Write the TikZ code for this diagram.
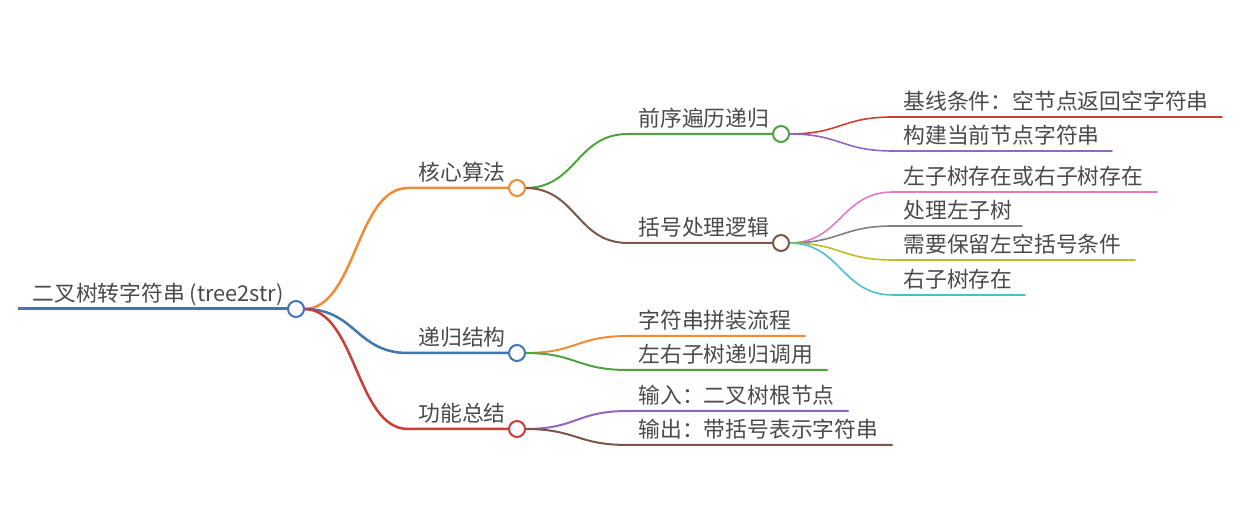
\documentclass[tikz,border=0pt]{standalone}
\usepackage{fontspec}
\newfontfamily\cjk{Noto Sans CJK SC}
\definecolor{txt}{HTML}{4A4A4A}
\definecolor{cblue}{HTML}{3F76B3}
\definecolor{corange}{HTML}{F08C35}
\definecolor{cred}{HTML}{CC3D36}
\definecolor{cgreen}{HTML}{4DA43D}
\definecolor{cbrown}{HTML}{7D5648}
\definecolor{cpurple}{HTML}{9366BF}
\definecolor{cpink}{HTML}{E07BC4}
\definecolor{cgray}{HTML}{808080}
\definecolor{colive}{HTML}{BDBD2A}
\definecolor{ccyan}{HTML}{4FBDD0}
\begin{document}
\begin{tikzpicture}[x=0.5pt,y=-0.5pt,
  lbl/.style={anchor=base west, inner sep=0pt, font=\cjk\fontsize{10.9}{12}\selectfont, text=txt},
  dot/.style={circle, draw=#1, fill=white, minimum size=8pt, inner sep=0pt, line width=1pt},
  lv0/.style={draw=#1, line width=1.5pt},
  lv1/.style={draw=#1, line width=1.25pt},
  lv2/.style={draw=#1, line width=1pt},
  lv3/.style={draw=#1, line width=0.8pt},
  link/.style={line cap=round}]
\useasboundingbox (0,0) rectangle (1248,506);

% root
\coordinate (R-s) at (18,309);
\coordinate (R-e) at (288,309);
\node[lbl] (R) at (32,302) {二叉树转字符串 (tree2str)};
\draw[lv0=cblue] (R-s) -- (R-e);

% level 1
\coordinate (A-s) at (408,188); \coordinate (A-e) at (509,188);
\node[lbl] (A) at (418,181) {核心算法};
\coordinate (B-s) at (408,353); \coordinate (B-e) at (509,353);
\node[lbl] (B) at (418,346) {递归结构};
\coordinate (C-s) at (408,429); \coordinate (C-e) at (509,429);
\node[lbl] (C) at (418,422) {功能总结};

\draw[lv1=corange, link] (R-e) ++(16,0) coordinate (R-ce) .. controls +(52,0) and +(-52,0) .. (A-s) -- (A-e);
\draw[lv1=cblue, link] (R-ce) .. controls +(52,0) and +(-52,0) .. (B-s) -- (B-e);
\draw[lv1=cred, link] (R-ce) .. controls +(52,0) and +(-52,0) .. (C-s) -- (C-e);

% level 2
\coordinate (A1-s) at (628,134); \coordinate (A1-e) at (773,134);
\node[lbl] (A1) at (638,127) {前序遍历递归};
\coordinate (A2-s) at (628,243); \coordinate (A2-e) at (773,243);
\node[lbl] (A2) at (638,236) {括号处理逻辑};
\coordinate (B1-s) at (628,336); \coordinate (B1-e) at (805,336);
\node[lbl] (B1) at (638,329) {字符串拼装流程};
\coordinate (B2-s) at (628,370); \coordinate (B2-e) at (827,370);
\node[lbl] (B2) at (638,363) {左右子树递归调用};
\coordinate (C1-s) at (628,411); \coordinate (C1-e) at (848,411);
\node[lbl] (C1) at (638,404) {输入：二叉树根节点};
\coordinate (C2-s) at (628,445); \coordinate (C2-e) at (892,445);
\node[lbl] (C2) at (638,438) {输出：带括号表示字符串};

\coordinate (A-ce) at (525,188);
\coordinate (B-ce) at (525,353);
\coordinate (C-ce) at (525,429);
\draw[lv2=cgreen, link] (A-ce) .. controls +(52,0) and +(-52,0) .. (A1-s) -- (A1-e);
\draw[lv2=cbrown, link] (A-ce) .. controls +(52,0) and +(-52,0) .. (A2-s) -- (A2-e);
\draw[lv2=corange, link] (B-ce) .. controls +(52,0) and +(-52,0) .. (B1-s) -- (B1-e);
\draw[lv2=cgreen, link] (B-ce) .. controls +(52,0) and +(-52,0) .. (B2-s) -- (B2-e);
\draw[lv2=cpurple, link] (C-ce) .. controls +(52,0) and +(-52,0) .. (C1-s) -- (C1-e);
\draw[lv2=cbrown, link] (C-ce) .. controls +(52,0) and +(-52,0) .. (C2-s) -- (C2-e);

% level 3
\coordinate (A11-s) at (893,117); \coordinate (A11-e) at (1222,117);
\node[lbl] (A11) at (903,110) {基线条件：空节点返回空字符串};
\coordinate (A12-s) at (893,151); \coordinate (A12-e) at (1112,151);
\node[lbl] (A12) at (903,144) {构建当前节点字符串};
\coordinate (A21-s) at (893,192); \coordinate (A21-e) at (1157,192);
\node[lbl] (A21) at (903,185) {左子树存在或右子树存在};
\coordinate (A22-s) at (893,226); \coordinate (A22-e) at (1022,226);
\node[lbl] (A22) at (903,219) {处理左子树};
\coordinate (A23-s) at (893,260); \coordinate (A23-e) at (1135,260);
\node[lbl] (A23) at (903,253) {需要保留左空括号条件};
\coordinate (A24-s) at (893,295); \coordinate (A24-e) at (1025,295);
\node[lbl] (A24) at (903,288) {右子树存在};

\coordinate (A1-ce) at (789,134);
\coordinate (A2-ce) at (789,243);
\draw[lv3=cred, link] (A1-ce) .. controls +(52,0) and +(-52,0) .. (A11-s) -- (A11-e);
\draw[lv3=cpurple, link] (A1-ce) .. controls +(52,0) and +(-52,0) .. (A12-s) -- (A12-e);
\draw[lv3=cpink, link] (A2-ce) .. controls +(52,0) and +(-52,0) .. (A21-s) -- (A21-e);
\draw[lv3=cgray, link] (A2-ce) .. controls +(52,0) and +(-52,0) .. (A22-s) -- (A22-e);
\draw[lv3=colive, link] (A2-ce) .. controls +(52,0) and +(-52,0) .. (A23-s) -- (A23-e);
\draw[lv3=ccyan, link] (A2-ce) .. controls +(52,0) and +(-52,0) .. (A24-s) -- (A24-e);

% circles
\node[dot=cblue] (R-c) at (296,309) {};
\node[dot=corange] (A-c) at (517,188) {};
\node[dot=cblue] (B-c) at (517,353) {};
\node[dot=cred] (C-c) at (517,429) {};
\node[dot=cgreen] (A1-c) at (781,134) {};
\node[dot=cbrown] (A2-c) at (781,243) {};
\end{tikzpicture}
\end{document}
